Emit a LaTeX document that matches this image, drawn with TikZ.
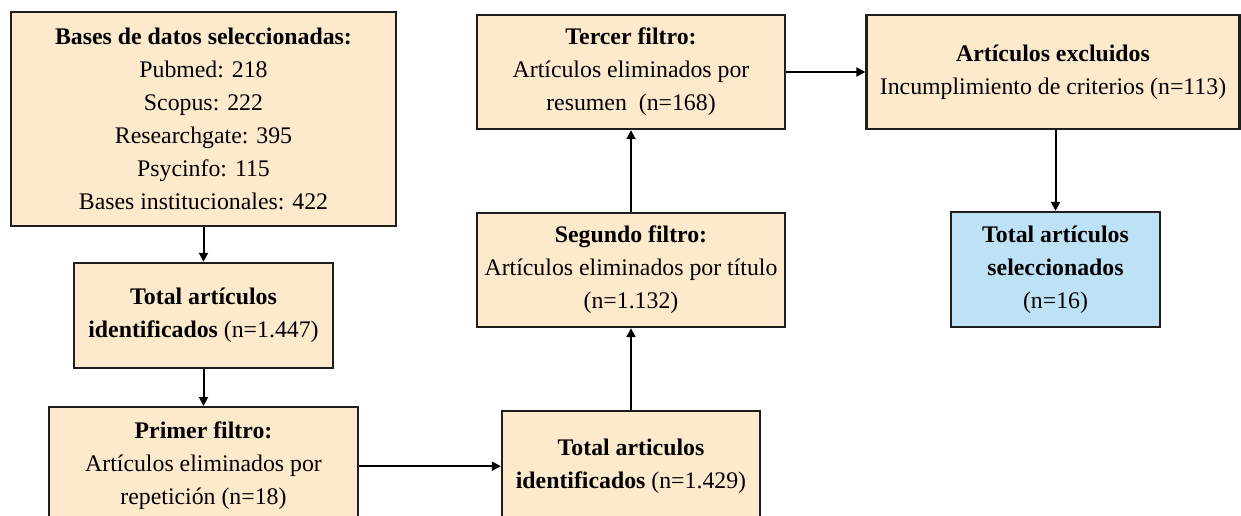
\documentclass[tikz,border=0pt]{standalone}
\usepackage{fontspec}
\setmainfont{Liberation Serif}
\usetikzlibrary{arrows.meta}
\definecolor{peach}{RGB}{253,233,204}
\definecolor{lightblue}{RGB}{190,226,245}
\definecolor{edge}{RGB}{30,30,30}
\tikzset{
  box/.style={draw=edge, line width=2.4pt, fill=peach, align=center, inner sep=0pt,
    font=\fontsize{23.8}{33}\selectfont},
  finalbox/.style={box, fill=lightblue},
  link/.style={line width=2pt, -{Triangle[length=9pt,width=9pt]}}
}
\begin{document}
\begin{tikzpicture}[x=1pt,y=-1pt]
\useasboundingbox (0,0) rectangle (1241,516);
\clip (0,0) rectangle (1241,516);
\node[box, minimum width=385pt, minimum height=214pt] (A) at (203.5,119)
  {\textbf{Bases de datos seleccionadas:}\\Pubmed: 218\\Scopus: 222\\Researchgate: 395\\Psycinfo: 115\\Bases institucionales: 422};
\node[box, minimum width=259pt, minimum height=105pt] (B) at (203.5,315.5)
  {\textbf{Total artículos}\\\textbf{identificados} (n=1.447)};
\node[box, minimum width=309pt, minimum height=116pt, anchor=north] (C) at (203.5,406)
  {\textbf{Primer filtro:}\\Artículos eliminados por\\repetición (n=18)};
\node[box, minimum width=258pt, minimum height=111pt, anchor=north] (D) at (631,410)
  {\textbf{Total articulos}\\\textbf{identificados} (n=1.429)};
\node[box, minimum width=308pt, minimum height=114pt] (E) at (631,270)
  {\textbf{Segundo filtro:}\\Artículos eliminados por título\\(n=1.132)};
\node[box, minimum width=308pt, minimum height=114pt] (F) at (631,72)
  {\textbf{Tercer filtro:}\\Artículos eliminados por\\resumen~~(n=168)};
\node[box, minimum width=373pt, minimum height=114pt] (G) at (1053,72)
  {\textbf{Artículos excluidos}\\Incumplimiento de criterios (n=113)};
\node[finalbox, minimum width=209pt, minimum height=115pt] (H) at (1055.5,269.5)
  {\textbf{Total artículos}\\\textbf{seleccionados}\\(n=16)};
\draw[link] (A.south) -- (B.north);
\draw[link] (B.south) -- (C.north);
\draw[link] ([yshift=-1pt]C.east) -- ([yshift=-1pt]C.east -| D.west);
\draw[link] (D.north) -- (E.south);
\draw[link] (E.north) -- (F.south);
\draw[link] (F.east) -- (G.west);
\draw[link] (G.south -| H.north) -- (H.north);
\end{tikzpicture}
\end{document}
